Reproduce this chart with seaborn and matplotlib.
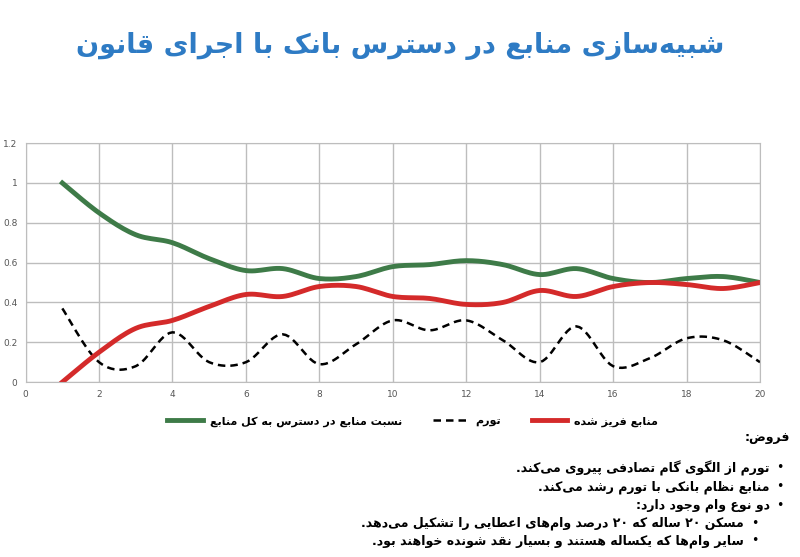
import numpy as np
import pandas as pd
import matplotlib
matplotlib.use("Agg")
import matplotlib.pyplot as plt
import seaborn as sns

x_vals = list(range(1, 21))
green_ratio = [1.0, 0.85, 0.74, 0.70, 0.62, 0.56, 0.57, 0.52, 0.53, 0.58,
               0.59, 0.61, 0.59, 0.54, 0.57, 0.52, 0.50, 0.52, 0.53, 0.50]
red_frozen = [0.0, 0.15, 0.27, 0.31, 0.38, 0.44, 0.43, 0.48, 0.48, 0.43,
              0.42, 0.39, 0.40, 0.46, 0.43, 0.48, 0.50, 0.49, 0.47, 0.50]
inflation = [0.37, 0.10, 0.08, 0.25, 0.10, 0.10, 0.24, 0.09, 0.19, 0.31,
             0.26, 0.31, 0.21, 0.10, 0.28, 0.08, 0.12, 0.22, 0.21, 0.10]

title = "شبیه‌سازی منابع در دسترس بانک با اجرای قانون"
lbl_green = "نسبت منابع در دسترس به کل منابع"
lbl_infl = "تورم"
lbl_red = "منابع فریز شده"
notes_head = "فروض:"
notes = ["تورم از الگوی گام تصادفی پیروی می‌کند.",
         "منابع نظام بانکی با تورم رشد می‌کند.",
         "دو نوع وام وجود دارد:"]
subnotes = ["مسکن ۲۰ ساله که ۲۰ درصد وام‌های اعطایی را تشکیل می‌دهد.",
            "سایر وام‌ها که یکساله هستند و بسیار نقد شونده خواهند بود."]

# ---- minimal Arabic/Persian shaping + RTL ordering ----
F = {  # iso, fin, ini, med
 'ا': (0xFE8D, 0xFE8E, None, None), 'آ': (0xFE81, 0xFE82, None, None),
 'ب': (0xFE8F, 0xFE90, 0xFE91, 0xFE92), 'پ': (0xFB56, 0xFB57, 0xFB58, 0xFB59),
 'ت': (0xFE95, 0xFE96, 0xFE97, 0xFE98), 'ث': (0xFE99, 0xFE9A, 0xFE9B, 0xFE9C),
 'ج': (0xFE9D, 0xFE9E, 0xFE9F, 0xFEA0), 'چ': (0xFB7A, 0xFB7B, 0xFB7C, 0xFB7D),
 'ح': (0xFEA1, 0xFEA2, 0xFEA3, 0xFEA4), 'خ': (0xFEA5, 0xFEA6, 0xFEA7, 0xFEA8),
 'د': (0xFEA9, 0xFEAA, None, None), 'ذ': (0xFEAB, 0xFEAC, None, None),
 'ر': (0xFEAD, 0xFEAE, None, None), 'ز': (0xFEAF, 0xFEB0, None, None),
 'ژ': (0xFB8A, 0xFB8B, None, None),
 'س': (0xFEB1, 0xFEB2, 0xFEB3, 0xFEB4), 'ش': (0xFEB5, 0xFEB6, 0xFEB7, 0xFEB8),
 'ص': (0xFEB9, 0xFEBA, 0xFEBB, 0xFEBC), 'ض': (0xFEBD, 0xFEBE, 0xFEBF, 0xFEC0),
 'ط': (0xFEC1, 0xFEC2, 0xFEC3, 0xFEC4), 'ظ': (0xFEC5, 0xFEC6, 0xFEC7, 0xFEC8),
 'ع': (0xFEC9, 0xFECA, 0xFECB, 0xFECC), 'غ': (0xFECD, 0xFECE, 0xFECF, 0xFED0),
 'ف': (0xFED1, 0xFED2, 0xFED3, 0xFED4), 'ق': (0xFED5, 0xFED6, 0xFED7, 0xFED8),
 'ک': (0xFB8E, 0xFB8F, 0xFB90, 0xFB91), 'گ': (0xFB92, 0xFB93, 0xFB94, 0xFB95),
 'ل': (0xFEDD, 0xFEDE, 0xFEDF, 0xFEE0), 'م': (0xFEE1, 0xFEE2, 0xFEE3, 0xFEE4),
 'ن': (0xFEE5, 0xFEE6, 0xFEE7, 0xFEE8), 'و': (0xFEED, 0xFEEE, None, None),
 'ه': (0xFEE9, 0xFEEA, 0xFEEB, 0xFEEC), 'ی': (0xFBFC, 0xFBFD, 0xFBFE, 0xFBFF),
 'ئ': (0xFE89, 0xFE8A, 0xFE8B, 0xFE8C),
}

def shape(s):
    out = []
    chars = list(s)
    n = len(chars)
    for i, c in enumerate(chars):
        if c == '\u200c':
            continue
        if c not in F:
            out.append(c)
            continue
        prev = chars[i - 1] if i > 0 else None
        nxt = chars[i + 1] if i + 1 < n else None
        jp = prev in F and F[prev][2] is not None
        jn = nxt in F and F[c][2] is not None
        f = F[c]
        if jp and jn:
            out.append(chr(f[3]))
        elif jp:
            out.append(chr(f[1]))
        elif jn:
            out.append(chr(f[2]))
        else:
            out.append(chr(f[0]))
    runs, cur = [], ''
    for c in out:
        if c.isdigit():
            cur += c
        else:
            if cur:
                runs.append(cur); cur = ''
            runs.append(c)
    if cur:
        runs.append(cur)
    return ''.join(reversed(runs))

plt.rcParams['font.family'] = ['DejaVu Sans']

def smooth(xs, ys, k=12):
    xs = np.asarray(xs, float); ys = np.asarray(ys, float)
    P = np.column_stack([xs, ys])
    P = np.vstack([P[0], P, P[-1]])
    pts = []
    for i in range(1, len(P) - 2):
        p0, p1, p2, p3 = P[i - 1], P[i], P[i + 1], P[i + 2]
        for t in np.linspace(0, 1, k, endpoint=False):
            pts.append(0.5 * ((2 * p1) + (-p0 + p2) * t +
                              (2 * p0 - 5 * p1 + 4 * p2 - p3) * t * t +
                              (-p0 + 3 * p1 - 3 * p2 + p3) * t ** 3))
    pts.append(P[-2])
    pts = np.array(pts)
    return pts[:, 0], pts[:, 1]

frames = []
for name, ys in [("g", green_ratio), ("i", inflation), ("r", red_frozen)]:
    sx, sy = smooth(x_vals, ys)
    frames.append(pd.DataFrame({"x": sx, "y": sy, "s": name}))
df = pd.concat(frames)

fig = plt.figure(figsize=(8, 5.57), dpi=100)
ax = fig.add_axes([0.032, 0.314, 0.918, 0.429])
sns.lineplot(data=df[df.s == "g"], x="x", y="y", color="#3E7B48", lw=3.5, ax=ax,
             label=shape(lbl_green), sort=False)
sns.lineplot(data=df[df.s == "i"], x="x", y="y", color="black", lw=1.8, ax=ax,
             label=shape(lbl_infl), sort=False, linestyle=(0, (3, 2)))
sns.lineplot(data=df[df.s == "r"], x="x", y="y", color="#D42A2A", lw=3.5, ax=ax,
             label=shape(lbl_red), sort=False)
ax.set_xlim(0, 20); ax.set_ylim(0, 1.2)
ax.set_xticks(range(0, 21, 2))
ax.set_yticks(np.round(np.arange(0, 1.21, 0.2), 1))
ax.set_yticklabels(["0", "0.2", "0.4", "0.6", "0.8", "1", "1.2"])
ax.grid(True, color="#BDBDBD", lw=1)
for sp in ax.spines.values():
    sp.set_color("#BDBDBD")
ax.tick_params(length=0, labelsize=6.5, colors="#555555", pad=6)
ax.set_xlabel(""); ax.set_ylabel("")
ax.legend(loc="upper center", bbox_to_anchor=(0.527, -0.1), ncol=3, frameon=False,
          handlelength=3.2, columnspacing=2.8, handletextpad=0.6,
          prop={"weight": "bold", "size": 8})

fig.text(0.5, 0.918, shape(title), ha="center", va="center", fontsize=19.5,
         fontweight="bold", color="#2E7BC4")
fig.text(0.988, 0.215, shape(notes_head), ha="right", va="center", fontsize=9, fontweight="bold")
for t, y in zip(notes, [0.16, 0.126, 0.093]):
    fig.text(0.962, y, shape(t), ha="right", va="center", fontsize=9, fontweight="bold")
    fig.text(0.98, y, "•", ha="right", va="center", fontsize=9)
for t, y in zip(subnotes, [0.061, 0.029]):
    fig.text(0.93, y, shape(t), ha="right", va="center", fontsize=9, fontweight="bold")
    fig.text(0.948, y, "•", ha="right", va="center", fontsize=9)

fig.savefig("out.png", dpi=100, facecolor="white")
